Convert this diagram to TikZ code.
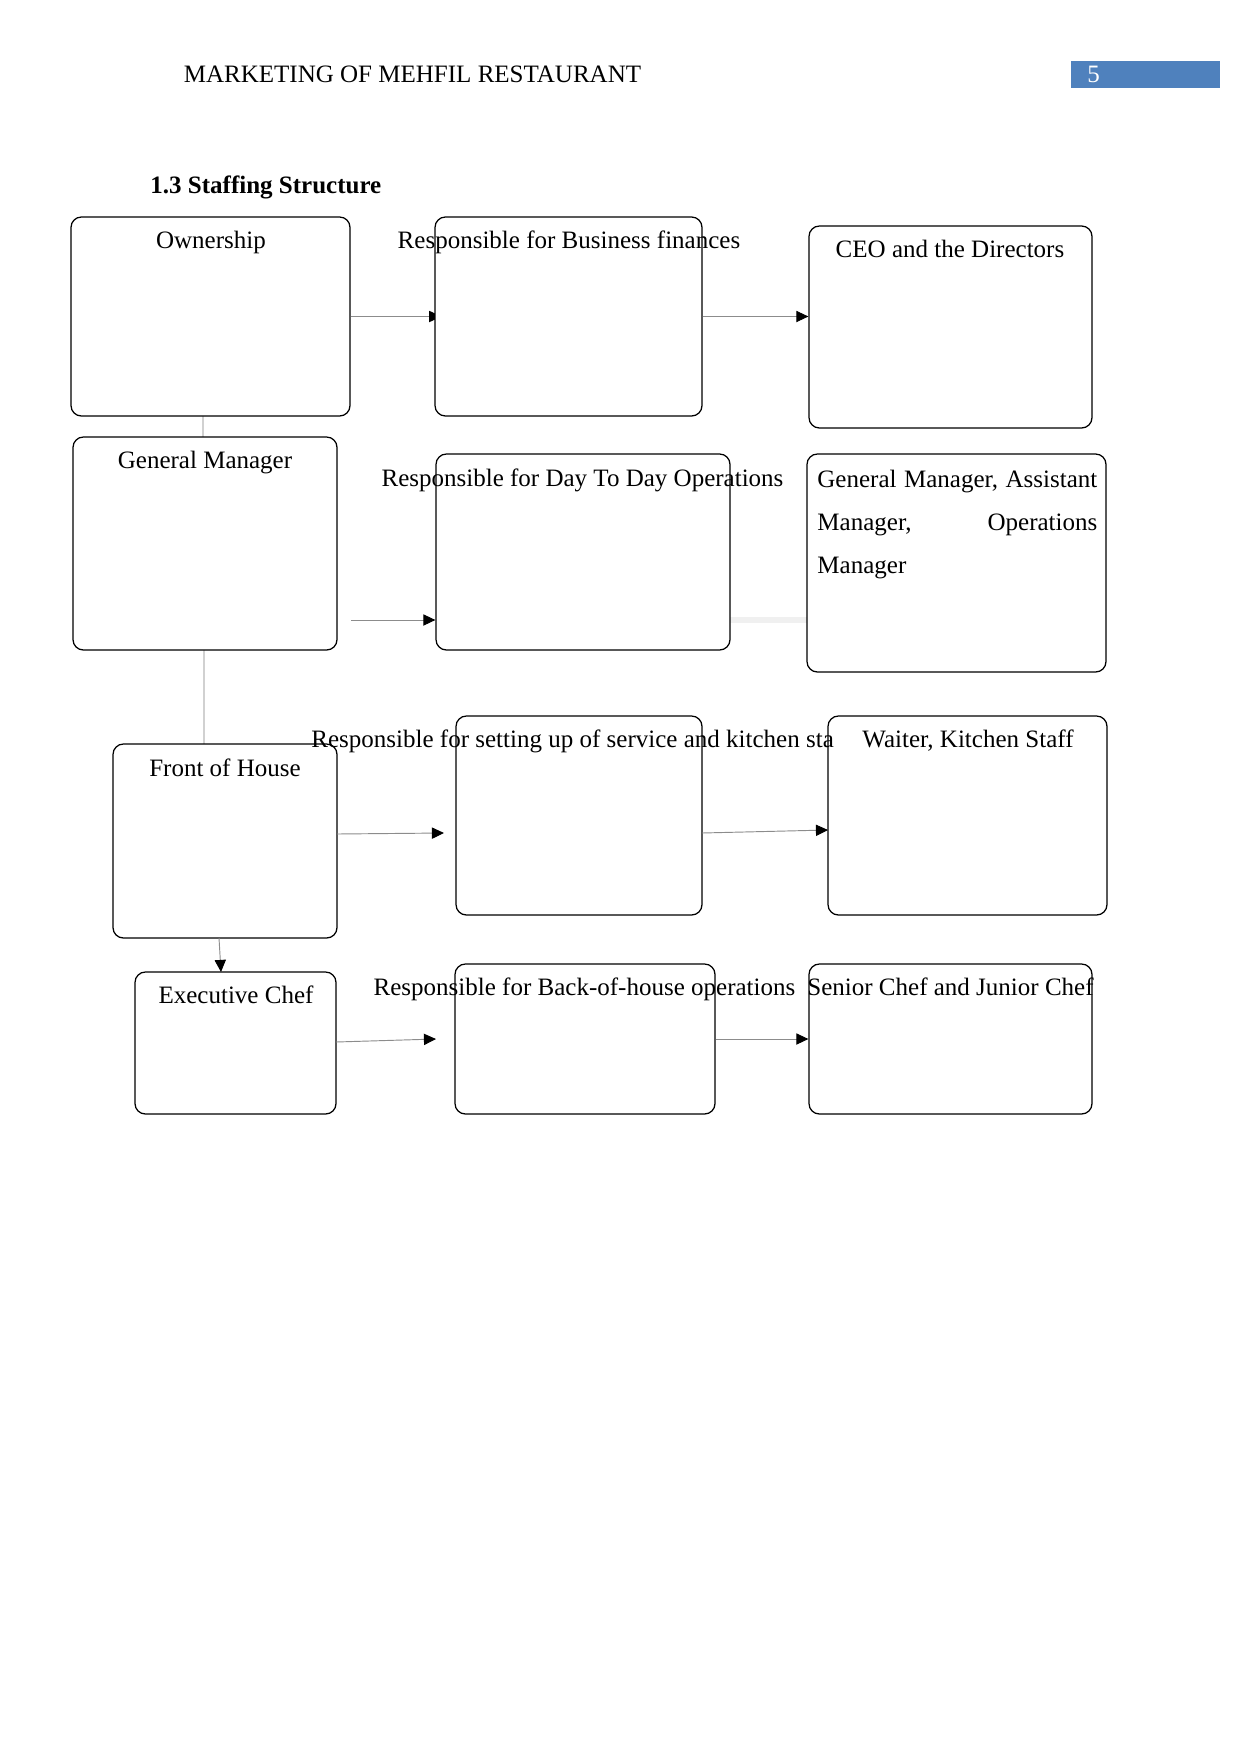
\documentclass[tikz,border=0pt]{standalone}
\usepackage{fontspec}
\setmainfont{Liberation Serif}
\usetikzlibrary{arrows.meta,fit}
\definecolor{hdrblue}{HTML}{4F81BD}
\begin{document}
\begin{tikzpicture}[x=0.4797pt,y=-0.4797pt,
  stbox/.style={draw=black, line width=0.6pt, rounded corners=5pt, inner sep=0pt, fill=white},
  lbl/.style={font=\fontsize{12}{14}\selectfont, inner sep=0pt, anchor=base},
  lblw/.style={lbl, anchor=base west},
  conn/.style={draw=black!45, line width=0.45pt, -{Triangle[length=5.8pt,width=5.4pt,color=black]}},
  faint/.style={draw=black!18, line width=0.6pt},
  shadowline/.style={draw=black!6, line width=2.5pt}]
\useasboundingbox (0,0) rectangle (1241,1754);
% header
\node[lbl] (hdr) at (412.5,83) {MARKETING OF MEHFIL RESTAURANT};
\node[fill=hdrblue, inner sep=0pt, fit={(1071,61)(1220,88)}] (pgbox) {};
\node[lblw, text=white] (pgnum) at (1087,83) {5};
\node[lblw, font=\fontsize{12}{14}\selectfont\bfseries] (title) at (150,194) {1.3 Staffing Structure};
% coordinates for free connector ends
\coordinate (v1s) at (203,416); \coordinate (v1e) at (203,437);
\coordinate (v2s) at (204,650); \coordinate (v2e) at (204,744);
\coordinate (c3) at (351,620);
\coordinate (c4s) at (337,834); \coordinate (c4e) at (444,833);
\coordinate (c5s) at (702,833); \coordinate (c5e) at (828,830);
\coordinate (c6s) at (219,938); \coordinate (c6e) at (221,972);
\coordinate (c7s) at (336,1042); \coordinate (c7e) at (436,1039);
% faint links
\draw[faint] (v1s) -- (v1e);
\draw[faint] (v2s) -- (v2e);
\draw[shadowline] (730,620) -- (807,620);
% boxes
\node[stbox, fit={(71,217)(350,416)}] (own) {};
\node[stbox, fit={(809,226)(1092,428)}] (ceo) {};
\node[stbox, fit={(73,437)(337,650)}] (gm) {};
\node[stbox, fit={(807,454)(1106,672)}] (gma) {};
\node[stbox, fit={(113,744)(337,938)}] (foh) {};
\node[stbox, fit={(828,716)(1107,915)}] (wait) {};
\node[stbox, fit={(135,972)(336,1114)}] (exec) {};
\node[stbox, fit={(809,964)(1092,1114)}] (senior) {};
% connectors
\draw[conn] (own.east) -- ([xshift=3pt]own.east -| 435,0);
\node[stbox, fit={(435,217)(702,416)}] (fin) {};
\node[stbox, fit={(436,454)(730,650)}] (day) {};
\node[stbox, fit={(456,716)(702,915)}] (setup) {};
\node[stbox, fit={(455,964)(715,1114)}] (back) {};
\draw[conn] (fin.east) -- (fin.east -| ceo.west);
\draw[conn] (c3) -- (c3 -| day.west);
\draw[conn] (c4s) -- (c4e);
\draw[conn] (c5s) -- (c5e);
\draw[conn] (c6s) -- (c6e);
\draw[conn] (c7s) -- (c7e);
\draw[conn] (back.east) -- (senior.west);
% texts
\node[lbl] (tOwn) at (211,248) {Ownership};
\node[lbl] (tFin) at (569,248) {Responsible for Business finances};
\node[lbl] (tCeo) at (950,257) {CEO and the Directors};
\node[lbl] (tGm) at (205,468) {General Manager};
\node[lbl] (tDay) at (582.5,486) {Responsible for Day To Day Operations};
\node[lblw, font=\fontsize{12}{20.6}\selectfont, align=left] (tGma) at (817,573)
  {\hbox to 134.3pt{General\hfill Manager,\hfill Assistant}\\\hbox to 134.3pt{Manager,\hfill Operations}\\Manager};
\node[lbl] (tFoh) at (225,776) {Front of House};
\node[lblw] (tSet) at (311,747) {Responsible for setting up of service and kitchen sta};
\node[lbl] (tWait) at (968,747) {Waiter, Kitchen Staff};
\node[lbl] (tExec) at (236,1003) {Executive Chef};
\node[lbl] (tBack) at (584.5,995) {Responsible for Back-of-house operations};
\node[lbl] (tSen) at (950.5,995) {Senior Chef and Junior Chef};
\end{tikzpicture}
\end{document}
